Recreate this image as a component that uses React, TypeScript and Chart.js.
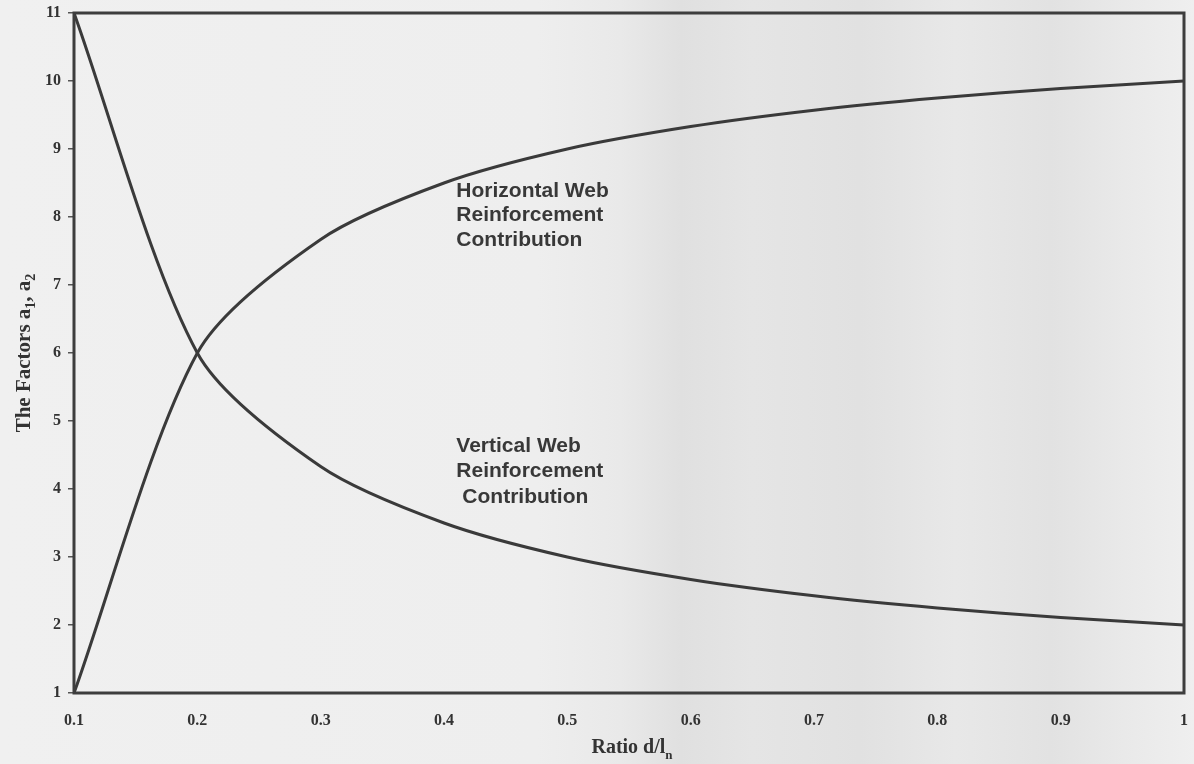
import React, { useEffect, useRef } from "react";
import { Chart, registerables } from "chart.js";

Chart.register(...registerables);

// ---- data ----
const ratios = [0.1, 0.2, 0.3, 0.4, 0.5, 0.6, 0.7, 0.8, 0.9, 1.0];
const verticalWeb = [11, 6, 4.33, 3.5, 3.0, 2.67, 2.43, 2.25, 2.11, 2.0];
const horizontalWeb = [1, 6, 7.67, 8.5, 9.0, 9.33, 9.57, 9.75, 9.89, 10.0];

const xTickLabels = ["0.1", "0.2", "0.3", "0.4", "0.5", "0.6", "0.7", "0.8", "0.9", "1"];
const yTickLabels = ["1", "2", "3", "4", "5", "6", "7", "8", "9", "10", "11"];

const horizontalLabel = ["Horizontal Web", "Reinforcement", "Contribution"];
const verticalLabel = ["Vertical Web", "Reinforcement", "Contribution"];
// anchors in data coordinates (x ratio, y value of first baseline)
const horizontalAnchor = [0.41, 8.3];
const verticalAnchor = [0.41, 4.55];

type Seg = { t: string; sub?: boolean };
const yTitleSegs: Seg[] = [
  { t: "The Factors a" },
  { t: "1", sub: true },
  { t: ", a" },
  { t: "2", sub: true },
];
const xTitleSegs: Seg[] = [{ t: "Ratio d/l" }, { t: "n", sub: true }];

const SERIF = "'Liberation Serif', 'Times New Roman', serif";
const SANS = "'Liberation Sans', Arial, sans-serif";
const INK = "#333333";
const LINE = "#3a3a3a";

function drawSegs(
  ctx: CanvasRenderingContext2D,
  segs: Seg[],
  cx: number,
  cy: number,
  size: number,
  rotate: boolean
) {
  ctx.save();
  ctx.translate(cx, cy);
  if (rotate) ctx.rotate(-Math.PI / 2);
  const mainF = `bold ${size}px ${SERIF}`;
  const subF = `bold ${Math.round(size * 0.65)}px ${SERIF}`;
  let total = 0;
  for (const s of segs) {
    ctx.font = s.sub ? subF : mainF;
    total += ctx.measureText(s.t).width;
  }
  let x = -total / 2;
  ctx.textBaseline = "alphabetic";
  ctx.textAlign = "left";
  ctx.fillStyle = INK;
  for (const s of segs) {
    ctx.font = s.sub ? subF : mainF;
    ctx.fillText(s.t, x, s.sub ? size * 0.28 : 0);
    x += ctx.measureText(s.t).width;
  }
  ctx.restore();
}

const paperPlugin = {
  id: "paper",
  beforeDraw(chart: any) {
    const { ctx, width, height } = chart;
    ctx.save();
    const g = ctx.createLinearGradient(0, 0, width, 0);
    g.addColorStop(0, "#f0f0f0");
    g.addColorStop(0.45, "#eeeeee");
    g.addColorStop(0.52, "#e9e9e9");
    g.addColorStop(0.57, "#e0e0e0");
    g.addColorStop(0.63, "#e5e5e5");
    g.addColorStop(0.72, "#e1e1e1");
    g.addColorStop(0.8, "#e8e8e8");
    g.addColorStop(0.88, "#e2e2e2");
    g.addColorStop(0.95, "#eaeaea");
    g.addColorStop(1, "#efefef");
    ctx.fillStyle = g;
    ctx.fillRect(0, 0, width, height);
    ctx.restore();
  },
};

const framePlugin = {
  id: "frame",
  afterDatasetsDraw(chart: any) {
    const { ctx, chartArea, scales } = chart;
    const { left, top, right, bottom } = chartArea;
    ctx.save();
    ctx.strokeStyle = "#3d3d3d";
    ctx.lineWidth = 3;
    ctx.strokeRect(left, top, right - left, bottom - top);

    // curve labels
    ctx.fillStyle = "#383838";
    ctx.font = `bold 21px ${SANS}`;
    ctx.textBaseline = "alphabetic";
    ctx.textAlign = "left";
    const hx = scales.x.getPixelForValue(horizontalAnchor[0]);
    const hy = scales.y.getPixelForValue(horizontalAnchor[1]);
    horizontalLabel.forEach((t, i) => ctx.fillText(t, hx, hy + i * 24.5));
    const vx = scales.x.getPixelForValue(verticalAnchor[0]);
    const vy = scales.y.getPixelForValue(verticalAnchor[1]);
    verticalLabel.forEach((t, i) => ctx.fillText(t, vx + (i === 2 ? 6 : 0), vy + i * 25.5));

    // axis titles
    drawSegs(ctx, yTitleSegs, 29.5, (top + bottom) / 2, 21, true);
    drawSegs(ctx, xTitleSegs, (left + right) / 2 + 3, 753, 20, false);
    ctx.restore();
  },
};

export default function App() {
  const ref = useRef<HTMLCanvasElement | null>(null);

  useEffect(() => {
    if (!ref.current) return;
    const chart = new Chart(ref.current, {
      type: "line",
      data: {
        datasets: [
          {
            label: "Vertical Web Reinforcement Contribution",
            data: ratios.map((r, i) => ({ x: r, y: verticalWeb[i] })),
            borderColor: LINE,
            borderWidth: 3,
            pointRadius: 0,
            tension: 0.28,
            fill: false,
          },
          {
            label: "Horizontal Web Reinforcement Contribution",
            data: ratios.map((r, i) => ({ x: r, y: horizontalWeb[i] })),
            borderColor: LINE,
            borderWidth: 3,
            pointRadius: 0,
            tension: 0.28,
            fill: false,
          },
        ],
      },
      options: {
        animation: false,
        responsive: false,
        devicePixelRatio: 1,
        layout: { padding: { top: 13, right: 10, left: 0, bottom: 0 } },
        plugins: {
          legend: { display: false },
          tooltip: { enabled: false },
        },
        scales: {
          x: {
            type: "linear",
            min: 0.1,
            max: 1,
            afterBuildTicks: (s: any) => {
              s.ticks = ratios.map((v) => ({ value: v }));
            },
            afterFit: (s: any) => {
              s.height = 71;
              s.paddingLeft = 0;
              s.paddingRight = 0;
            },
            ticks: {
              autoSkip: false,
              maxRotation: 0,
              padding: 18,
              color: INK,
              font: { family: SERIF, size: 16, weight: "bold" },
              callback: (_v: any, i: number) => xTickLabels[i],
            },
            grid: { display: false, drawTicks: false },
            border: { display: false },
          },
          y: {
            type: "linear",
            min: 1,
            max: 11,
            afterBuildTicks: (s: any) => {
              s.ticks = yTickLabels.map((t) => ({ value: Number(t) }));
            },
            afterFit: (s: any) => {
              s.width = 74;
              s.paddingTop = 0;
              s.paddingBottom = 0;
            },
            ticks: {
              autoSkip: false,
              padding: 7,
              color: INK,
              font: { family: SERIF, size: 16, weight: "bold" },
              callback: (_v: any, i: number) => yTickLabels[i],
            },
            grid: {
              drawOnChartArea: false,
              drawTicks: true,
              tickLength: 6,
              color: "#555555",
              lineWidth: 1.5,
            },
            border: { display: false },
          },
        },
      },
      plugins: [paperPlugin, framePlugin],
    } as any);
    return () => chart.destroy();
  }, []);

  return (
    <div style={{ position: "fixed", left: 0, top: 0, width: 1194, height: 764, background: "#eeeeee" }}>
      <canvas ref={ref} width={1194} height={764} style={{ display: "block" }} />
    </div>
  );
}
